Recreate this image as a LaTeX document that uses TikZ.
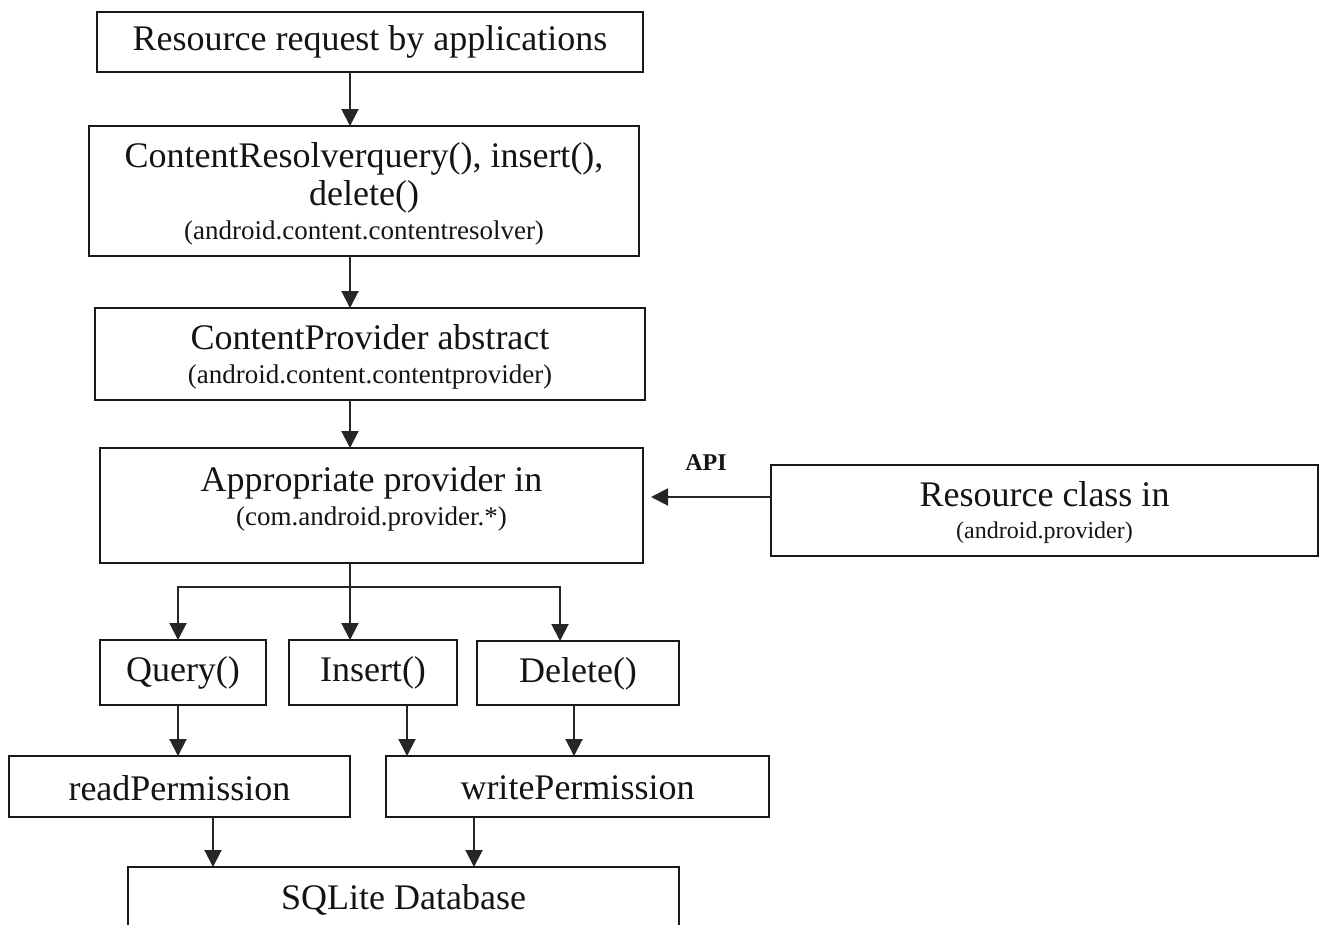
\documentclass[tikz,border=0pt]{standalone}
\usepackage{fontspec}
\setmainfont{Liberation Serif}
\usetikzlibrary{arrows.meta}
\newcommand\subtxt{\fontsize{27}{30}\selectfont}
\newcommand\smalltxt{\fontsize{24}{27}\selectfont}
\begin{document}
\begin{tikzpicture}[x=1pt,y=-1pt,
  frame/.style={draw=black!90,line width=2pt,rectangle,inner sep=0pt,outer sep=0pt},
  lbl/.style={font=\fontsize{36}{38}\selectfont,align=center,inner sep=0pt,text=black!92},
  arr/.style={draw=black!85,line width=2pt,-{Triangle[width=17pt,length=17pt]}},
  wire/.style={draw=black!85,line width=2pt}]
\useasboundingbox (0,0) rectangle (1324,924);

% boxes of the main column
\node[frame,minimum width=546pt,minimum height=60pt]  (req)  at (370,42) {};
\node[frame,minimum width=550pt,minimum height=130pt] (res)  at (364,191) {};
\node[frame,minimum width=550pt,minimum height=92pt]  (pabs) at (370,354) {};
\node[frame,minimum width=543pt,minimum height=115pt] (prov) at (371.5,505.5) {};
\node[frame,minimum width=547pt,minimum height=91pt]  (rc)   at (1044.5,510.5) {};

% operations
\node[frame,minimum width=166pt,minimum height=65pt] (qry) at (183,672.5) {};
\node[frame,minimum width=168pt,minimum height=65pt] (ins) at (373,672.5) {};
\node[frame,minimum width=202pt,minimum height=64pt] (del) at (578,673) {};

% permissions and storage
\node[frame,minimum width=341pt,minimum height=61pt] (rp)  at (179.5,786.5) {};
\node[frame,minimum width=383pt,minimum height=61pt] (wp)  at (577.5,786.5) {};
\node[frame,minimum width=551pt,minimum height=80pt] (sql) at (403.5,907) {};

% texts
\node[lbl] (reqT)  at (370,42) {Resource request by applications};
\node[lbl] (resT)  at (364,194) {ContentResolverquery(), insert(),\\ delete()\\[-4pt] {\subtxt (android.content.contentresolver)}};
\node[lbl] (pabsT) at (370,357) {ContentProvider abstract\\[-4pt] {\subtxt (android.content.contentprovider)}};
\node[lbl] (provT) at (371.5,499) {Appropriate provider in\\[-4pt] {\subtxt (com.android.provider.*)}};
\node[lbl] (rcT)   at (1044.5,513) {Resource class in\\[-6pt] {\smalltxt (android.provider)}};
\node[lbl] (qryT)  at (183,673) {Query()};
\node[lbl] (insT)  at (373,673) {Insert()};
\node[lbl] (delT)  at (578,674) {Delete()};
\node[lbl] (rpT)   at (179.5,788) {readPermission};
\node[lbl] (wpT)   at (577.5,788) {writePermission};
\node[lbl] (sqlT)  at (403.5,900) {SQLite Database};
\node[font=\bfseries\fontsize{24}{26}\selectfont,inner sep=0pt,text=black!92] (api) at (706,463) {API};

% routing columns
\coordinate (xm) at (350,0);
\coordinate (xl) at (178,0);
\coordinate (xr) at (560,0);
\coordinate (xi) at (407,0);
\coordinate (xd) at (574,0);
\coordinate (xa) at (213,0);
\coordinate (xb) at (474,0);
\coordinate (ya) at (0,497);
\coordinate (jn) at (350,587);

% main column
\draw[arr] (req.south -| xm) -- (res.north -| xm);
\draw[arr] (res.south -| xm) -- (pabs.north -| xm);
\draw[arr] (pabs.south -| xm) -- (prov.north -| xm);
\draw[arr,shorten >=8pt] (rc.west |- ya) -- (prov.east |- ya);

% fan-out to the operations
\draw[arr] (prov.south -| xm) -- (ins.north -| xm);
\draw[arr] (jn) -| (qry.north -| xl);
\draw[arr] (jn) -| (del.north -| xr);

% operations to permissions
\draw[arr] (qry.south -| xl) -- (rp.north -| xl);
\draw[arr] (ins.south -| xi) -- (wp.north -| xi);
\draw[arr] (del.south -| xd) -- (wp.north -| xd);

% permissions to the database
\draw[arr] (rp.south -| xa) -- (sql.north -| xa);
\draw[arr] (wp.south -| xb) -- (sql.north -| xb);
\end{tikzpicture}
\end{document}
